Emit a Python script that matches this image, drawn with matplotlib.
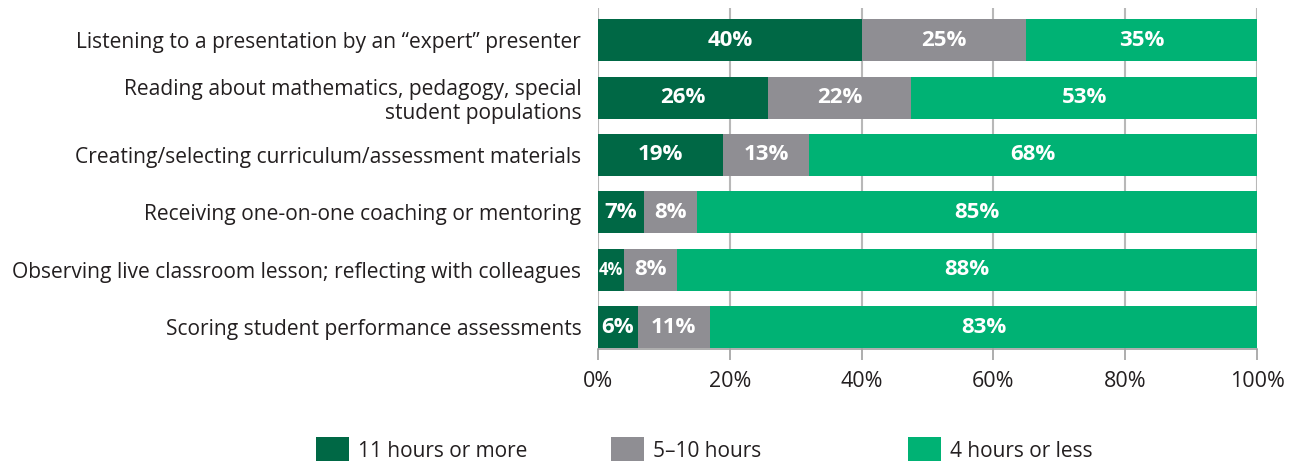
import matplotlib.pyplot as plt
import numpy as np
from matplotlib.patches import Patch

categories = [
    "Listening to a presentation by an \u201cexpert\u201d presenter",
    "Reading about mathematics, pedagogy, special\nstudent populations",
    "Creating/selecting curriculum/assessment materials",
    "Receiving one-on-one coaching or mentoring",
    "Observing live classroom lesson; reflecting with colleagues",
    "Scoring student performance assessments",
]
series_names = ["11 hours or more", "5\u201310 hours", "4 hours or less"]
hours_11_plus = [40, 26, 19, 7, 4, 6]
hours_5_10 = [25, 22, 13, 8, 8, 11]
hours_4_less = [35, 53, 68, 85, 88, 83]
colors = ["#006845", "#8f8e93", "#00b274"]

plt.rcParams['font.family'] = ['Open Sans', 'DejaVu Sans']
text_color = "#231f20"

fig = plt.figure(figsize=(12.93, 4.61), dpi=100)
ax = fig.add_axes([0.4625, 0.243, 0.5097, 0.7395])

data = np.array([hours_11_plus, hours_5_10, hours_4_less], dtype=float)
# rows sum to ~100 (rounding); scale to 100 for display
shares = data / data.sum(axis=0) * 100
y = np.arange(len(categories))
left = np.zeros(len(categories))
for vals, shown, name, col in zip(shares, data, series_names, colors):
    ax.barh(y, vals, left=left, height=0.73, color=col, label=name, zorder=3)
    for yi, l, v, s in zip(y, left, vals, shown):
        fs = 12 if s < 5 else 16
        ax.text(l + v / 2, yi, f"{int(s)}%", ha='center', va='center',
                color='white', fontsize=fs, fontweight='bold', zorder=4)
    left += vals

ax.set_xlim(0, 100)
ax.set_ylim(len(categories) - 1 + 0.38, -0.56)
ax.set_xticks(np.arange(0, 101, 20))
ax.set_xticklabels([f"{t}%" for t in range(0, 101, 20)], fontsize=15.5, color=text_color)
ax.set_yticks(y)
ax.set_yticklabels(categories, fontsize=15.1, color=text_color, linespacing=1.2)
ax.tick_params(axis='y', length=0, pad=12)
ax.tick_params(axis='x', length=8, width=1.2, color='#a0a0a0', pad=8)
ax.grid(axis='x', color='#b8b8b8', linewidth=1.5, zorder=0)
for s in ['top', 'right', 'left']:
    ax.spines[s].set_visible(False)
ax.spines['bottom'].set_color('#a0a0a0')
ax.spines['bottom'].set_linewidth(1.2)

# legend items placed at fixed, evenly spaced positions
legend_x = [316, 611, 908]
for c, name, lx in zip(colors, series_names, legend_x):
    fig.legend([Patch(facecolor=c)], [name], loc='lower left',
               bbox_to_anchor=(lx / 1293, -0.005), frameon=False, fontsize=15,
               handlelength=1.6, handleheight=1.6, handletextpad=0.4,
               borderpad=0, borderaxespad=0, labelcolor=text_color)

fig.savefig("out.png", dpi=100)
